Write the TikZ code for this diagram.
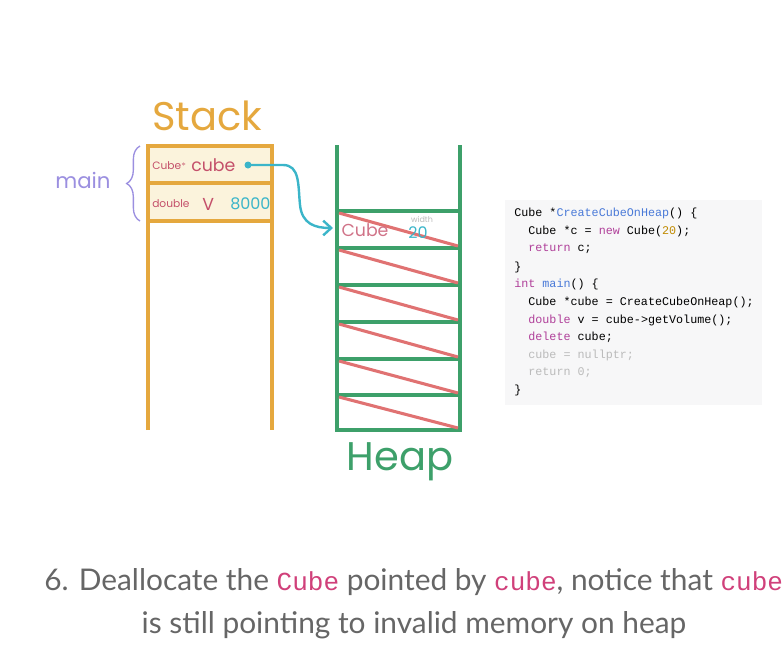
\documentclass[tikz,border=0pt]{standalone}
\usepackage{fontspec}
\setmainfont{Lato}
\newfontfamily\hand{Poppins}
\newfontfamily\codef{Liberation Mono}
\newfontfamily\capf{Lato}
\usetikzlibrary{arrows.meta,decorations.pathreplacing}
\definecolor{stk}{HTML}{E5A83E}
\definecolor{cream}{HTML}{FBF3DC}
\definecolor{hp}{HTML}{3DA06A}
\definecolor{diag}{HTML}{E07272}
\definecolor{ptr}{HTML}{3BB5C9}
\definecolor{vname}{HTML}{C4506A}
\definecolor{mainc}{HTML}{9B8FE0}
\definecolor{kw}{HTML}{B0409A}
\definecolor{fn}{HTML}{4A7AD8}
\definecolor{num}{HTML}{C08A00}
\definecolor{faded}{HTML}{BBBBBB}
\definecolor{codebg}{HTML}{F7F7F8}
\definecolor{captxt}{HTML}{666666}
\definecolor{capcode}{HTML}{D0407A}
\tikzset{
  stackline/.style={draw=stk,line width=2.8pt},
  heapline/.style={draw=hp,line width=2.8pt},
  diagline/.style={draw=diag,line width=2.3pt},
  codeline/.style={anchor=west,inner sep=0pt,font=\codef\fontsize{8.8}{10}\selectfont},
  captext/.style={inner sep=0pt,text=captxt,font=\capf\fontsize{22.4}{26}\selectfont}
}
\begin{document}
\begin{tikzpicture}[x=0.75pt,y=-0.75pt]
\useasboundingbox (0,0) rectangle (784,664);
\clip (0,0) rectangle (784,664);
% stack
\fill[cream] (148,146) rectangle (272,221);
\draw[stackline] (148,430) -- (148,146) -- (272,146) -- (272,430);
\draw[stackline] (148,183) -- (272,183);
\draw[stackline] (148,221) -- (272,221);
\node[text=stk,font=\hand\fontsize{30}{34}\selectfont] (stacklbl) at (207,116) {Stack};
% brace & main
\draw[mainc,line width=1pt,decorate,decoration={brace,amplitude=10pt}] (140,221) -- (140,146);
\node[text=mainc,font=\hand\fontsize{16}{18}\selectfont] (mainlbl) at (83,180) {main};
% row contents
\node[text=vname,font=\hand\fontsize{8}{9}\selectfont,anchor=west,inner sep=0pt] (cubet) at (152,166) {Cube$^{*}$};
\node[text=vname,font=\hand\fontsize{13}{14}\selectfont,anchor=west,inner sep=0pt] (cubev) at (191,165) {cube};
\fill[ptr] (248,165) circle (3.5);
\coordinate (dot) at (248,165);
\node[text=vname,font=\hand\fontsize{8}{9}\selectfont,anchor=west,inner sep=0pt] (dbl) at (152,204) {double};
\node[text=vname,font=\hand\fontsize{13}{14}\selectfont,anchor=west,inner sep=0pt] (vv) at (202,204) {V};
\node[text=ptr,font=\hand\fontsize{12}{14}\selectfont,anchor=west,inner sep=0pt] (val) at (230,204) {8000};
% heap
\draw[heapline] (337,145) -- (337,430) -- (460,430) -- (460,145);
\foreach \y in {211,248,285,322,359,395} \draw[heapline] (337,\y) -- (460,\y);
\foreach \a/\b in {211/248,248/285,285/322,322/359,359/395,395/430}
  \draw[diagline] (339,\a+2) -- (458,\b-2);
\node[text=hp,font=\hand\fontsize{30}{34}\selectfont] (heaplbl) at (400,462) {Heap};
\node[text=vname!80,font=\hand\fontsize{13}{14}\selectfont] (cubeobj) at (365,230) {Cube};
\node[text=faded,font=\hand\fontsize{6}{7}\selectfont] (widthl) at (422,219) {width};
\node[text=ptr,font=\hand\fontsize{12}{14}\selectfont] (twenty) at (418,233) {20};
\coordinate (tgt) at (333,228);
% pointer arrow
\draw[ptr,line width=1.8pt,-{Straight Barb[length=6pt,width=11pt]}] (dot) -- (283,165) .. controls (300,165) and (298,185) .. (300,205) .. controls (302,224) and (315,228) .. (tgt);
% code box
\fill[codebg] (505,200) rectangle (762,405);
\node[codeline] (c1) at (514,213) {Cube *\textcolor{fn}{CreateCubeOnHeap}() \{};
\node[codeline] (c2) at (514,231) {\ \ Cube *c = \textcolor{kw}{new} Cube(\textcolor{num}{20});};
\node[codeline] (c3) at (514,249) {\ \ \textcolor{kw}{return} c;};
\node[codeline] (c4) at (514,267) {\}};
\node[codeline] (c5) at (514,284) {\textcolor{kw}{int} \textcolor{fn}{main}() \{};
\node[codeline] (c6) at (514,302) {\ \ Cube *cube = CreateCubeOnHeap();};
\node[codeline] (c7) at (514,320) {\ \ \textcolor{kw}{double} v = cube->getVolume();};
\node[codeline] (c8) at (514,337) {\ \ \textcolor{kw}{delete} cube;};
\node[codeline,text=faded] (c9) at (514,355) {\ \ cube = nullptr;};
\node[codeline,text=faded] (c10) at (514,373) {\ \ return 0;};
\node[codeline] (c11) at (514,390) {\}};
% caption
\node[captext,anchor=west] (cap1) at (44,582) {6. Deallocate the \textcolor{capcode}{\codef\fontsize{19.5}{24}\selectfont Cube} pointed by \textcolor{capcode}{\codef\fontsize{19.5}{24}\selectfont cube}, notice that \textcolor{capcode}{\codef\fontsize{19.5}{24}\selectfont cube}};
\node[captext] (cap2) at (414,625) {is still pointing to invalid memory on heap};
\end{tikzpicture}
\end{document}
